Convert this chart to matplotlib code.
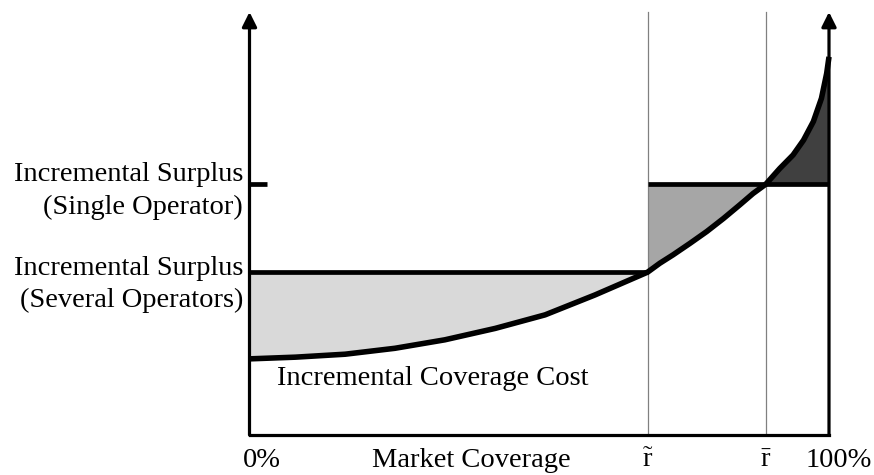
"""Incremental surplus vs incremental coverage cost diagram."""

import matplotlib
matplotlib.use("Agg")
import matplotlib.pyplot as plt

plt.rcParams["font.family"] = ["Liberation Serif", "DejaVu Serif"]
plt.rcParams["mathtext.fontset"] = "custom"
plt.rcParams["mathtext.rm"] = "Liberation Serif"
plt.rcParams["mathtext.it"] = "Liberation Serif:italic"

# market coverage (0 = 0%, 1 = 100%) and incremental coverage cost
coverage = [0.0, 0.079, 0.165, 0.251, 0.337, 0.424, 0.510, 0.596, 0.687,
            0.708, 0.731, 0.760, 0.789, 0.818, 0.846, 0.869, 0.891,
            0.915, 0.938, 0.956, 0.973, 0.987, 0.996, 1.0]
cost = [0.180, 0.184, 0.191, 0.205, 0.225, 0.252, 0.284, 0.331, 0.385,
        0.406, 0.426, 0.453, 0.481, 0.512, 0.544, 0.571, 0.593,
        0.630, 0.662, 0.697, 0.741, 0.796, 0.855, 0.894]

r_tilde = 0.687          # coverage with several operators
r_bar = 0.891            # coverage with a single operator
surplus_several = 0.385
surplus_single = 0.593

x_labels = ["0%", "Market Coverage", r"$\mathrm{\tilde{r}}$", r"$\mathrm{\bar{r}}$", "100%"]
x_label_pos = [0.022, 0.383, r_tilde, r_bar, 1.017]

FS = 20.5

fig = plt.figure(figsize=(8.74, 4.75), dpi=100)
ax = fig.add_axes([249.5 / 874, 40 / 475, 579.5 / 874, 423 / 475])
ax.set_xlim(0, 1)
ax.set_ylim(0, 1)
ax.axis("off")

i_t = coverage.index(r_tilde)
i_b = coverage.index(r_bar)

# shaded areas
ax.fill_between(coverage[: i_t + 1], cost[: i_t + 1], surplus_several,
                color="#d9d9d9", lw=0)
ax.fill_between(coverage[i_t: i_b + 1], cost[i_t: i_b + 1], surplus_single,
                color="#a6a6a6", lw=0)
ax.fill_between(coverage[i_b:], cost[i_b:], surplus_single,
                color="#404040", lw=0)

# thin guides at r~ and r-
for xv in (r_tilde, r_bar):
    ax.plot([xv, xv], [0, 1], color="#808080", lw=0.9, clip_on=False)

# surplus levels
ax.plot([0, r_tilde], [surplus_several] * 2, color="black", lw=3.4, solid_capstyle="butt")
ax.plot([r_tilde, 1.0], [surplus_single] * 2, color="black", lw=3.4, solid_capstyle="butt")
ax.plot([0, 0.031], [surplus_single] * 2, color="black", lw=3.4, solid_capstyle="butt")

# cost curve
ax.plot(coverage, cost, color="black", lw=4, clip_on=False,
        solid_capstyle="butt", solid_joinstyle="round")

# axes with arrows
ax.plot([0, 1.0], [0, 0], color="black", lw=2.3, clip_on=False, solid_capstyle="projecting")
for xv in (0.0, 1.0):
    ax.annotate("", xy=(xv, 1.0), xytext=(xv, 0),
                arrowprops=dict(arrowstyle="-|>", lw=2.3, color="black",
                                mutation_scale=22, shrinkA=0, shrinkB=0),
                annotation_clip=False)

# labels
ax.text(-0.011, 0.577, "Incremental Surplus\n(Single Operator)", ha="right",
        va="center", fontsize=FS, linespacing=1.37)
ax.text(-0.011, 0.355, "Incremental Surplus\n(Several Operators)", ha="right",
        va="center", fontsize=FS, linespacing=1.37)
ax.text(0.048, 0.133, "Incremental Coverage Cost", ha="left", va="center", fontsize=FS)

for pos, lab in zip(x_label_pos, x_labels):
    ax.text(pos, -0.0757, lab, ha="center", va="baseline", fontsize=FS, clip_on=False)

fig.savefig("out.png", dpi=100)
